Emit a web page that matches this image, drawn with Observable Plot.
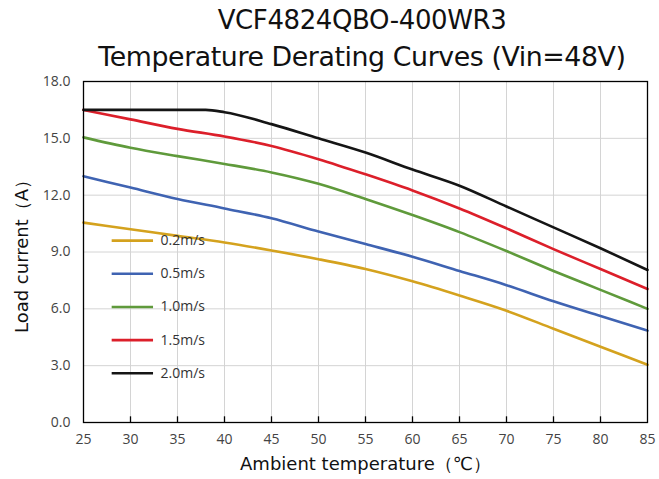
<!DOCTYPE html>
<html>
<head>
<meta charset="utf-8">
<script src="https://cdn.jsdelivr.net/npm/d3@7"></script>
<script src="https://cdn.jsdelivr.net/npm/@observablehq/plot@0.6"></script>
<style>
  html, body { margin: 0; padding: 0; background: #fff; }
  #wrap { position: relative; width: 659px; height: 479px; overflow: hidden; }
  .title { position: absolute; left: 0; width: 724px; text-align: center; font-family: "DejaVu Sans", sans-serif; font-size: 26px; color: #111; white-space: nowrap; letter-spacing: -0.4px; }
  #t1 { top: 5px; }
  #t2 { top: 42px; transform: scaleX(1.03); transform-origin: 363px 0; }
  #chart { position: absolute; left: 0; top: 66px; }
</style>
</head>
<body>
<div id="wrap">
  <div id="chart"></div>
  <div class="title" id="t1">VCF4824QBO-400WR3</div>
  <div class="title" id="t2">Temperature Derating Curves (Vin=48V)</div>
</div>
<script>
const temps = [25, 30, 35, 40, 45, 50, 55, 60, 65, 70, 75, 80, 85];
const v02 = [10.55, 10.2, 9.85, 9.5, 9.08, 8.62, 8.1, 7.45, 6.7, 5.9, 4.95, 4.0, 3.05];
const v05 = [13.0, 12.4, 11.8, 11.3, 10.78, 10.08, 9.42, 8.75, 8.0, 7.25, 6.4, 5.62, 4.85];
const v10 = [15.05, 14.5, 14.06, 13.65, 13.2, 12.6, 11.8, 10.95, 10.05, 9.05, 8.0, 7.0, 6.0];
const v15 = [16.5, 16.0, 15.5, 15.1, 14.6, 13.9, 13.1, 12.25, 11.3, 10.25, 9.15, 8.1, 7.05];
const temps20 = [25, 30, 35, 38, 40, 45, 50, 55, 60, 65, 70, 75, 80, 85];
const v20 = [16.5, 16.5, 16.5, 16.5, 16.38, 15.75, 15.0, 14.25, 13.35, 12.5, 11.4, 10.3, 9.2, 8.05];

const seriesNames = ["0.2m/s", "0.5m/s", "1.0m/s", "1.5m/s", "2.0m/s"];
const seriesColors = ["#D4A21E", "#3F63B2", "#5F9A3B", "#DC1F2A", "#151515"];
const xTicks = [25, 30, 35, 40, 45, 50, 55, 60, 65, 70, 75, 80, 85];
const yTicks = [0, 3, 6, 9, 12, 15, 18];

const seriesX = [temps, temps, temps, temps, temps20];
const seriesY = [v02, v05, v10, v15, v20];
const rows = [];
seriesNames.forEach((name, i) => {
  seriesX[i].forEach((t, j) => rows.push({ series: name, t, v: seriesY[i][j] }));
});

// legend rows placed in data space (inside the frame)
const legendRows = seriesNames.map((name, i) => ({ series: name, y: 9.6 - i * 1.75 }));

const labelFont = "'DejaVu Sans', sans-serif";

const chart = Plot.plot({
  width: 659,
  height: 413,
  marginLeft: 83,
  marginRight: 12,
  marginTop: 15,
  marginBottom: 57,
  style: { fontFamily: "'Open Sans', sans-serif", fontSize: "14px", color: "#444", background: "transparent" },
  x: { domain: [25, 85] },
  y: { domain: [0, 18] },
  color: { domain: seriesNames, range: seriesColors },
  marks: [
    Plot.gridX(xTicks, { stroke: "#d4d4d4", strokeOpacity: 1, strokeWidth: 1 }),
    Plot.gridY(yTicks, { stroke: "#d4d4d4", strokeOpacity: 1, strokeWidth: 1 }),
    Plot.axisY(yTicks, { tickSize: 0, tickPadding: 13, tickFormat: d => d.toFixed(1), label: "Load current（A）", labelAnchor: "center", labelArrow: "none", labelOffset: 68, fontSize: 14, fill: "#444" }),
    Plot.axisX(xTicks, { tickSize: 0, tickPadding: 12, tickFormat: d => String(d), label: "Ambient temperature（℃）", labelAnchor: "center", labelArrow: "none", labelOffset: 47, fontSize: 14, fill: "#444" }),
    Plot.ruleX(xTicks.slice(1, -1), { y1: 0, y2: 0.3, stroke: "#000", strokeWidth: 1.3 }),
    Plot.line(rows, { x: "t", y: "v", z: "series", stroke: "series", strokeWidth: 2.6, curve: "monotone-x" }),
    Plot.ruleY(legendRows, { x1: 28.05, x2: 32.45, y: "y", stroke: "series", strokeWidth: 2.6 }),
    Plot.text(legendRows, { x: 33.2, y: "y", text: "series", textAnchor: "start", fontSize: 14, fill: "#333", fontFamily: "'Open Sans', sans-serif" }),
    Plot.frame({ stroke: "#000", strokeWidth: 1.3 })
  ]
});
document.getElementById("chart").appendChild(chart);

// style axis labels
chart.querySelectorAll("[aria-label='y-axis label'] text, [aria-label='x-axis label'] text").forEach(t => {
  t.setAttribute("font-size", "18");
  t.setAttribute("fill", "#111");
  t.style.fontSize = "18px";
  t.style.fontFamily = labelFont;
});
</script>
</body>
</html>
